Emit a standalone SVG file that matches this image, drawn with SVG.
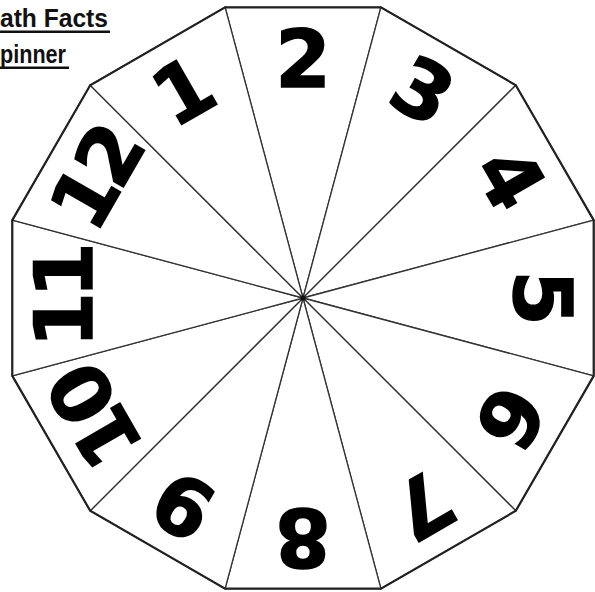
<svg xmlns="http://www.w3.org/2000/svg" width="595" height="592" viewBox="0 0 595 592">
<style>
.sec{fill:#fff;stroke:#333;stroke-width:1.3;stroke-linejoin:miter}
.num{font-family:"DejaVu Sans",sans-serif;font-weight:bold;font-size:80px;fill:#000;text-anchor:middle;stroke:#000;stroke-width:1.5}
.two{letter-spacing:-6px}
.title{font-family:"Liberation Sans",Arial,sans-serif;font-weight:bold;font-size:25px;fill:#111}
</style>
<rect width="595" height="592" fill="#fff"/>
<g id="title">
<text class="title" x="0" y="27" textLength="108" lengthAdjust="spacingAndGlyphs">ath Facts</text>
<rect x="0" y="30.5" width="110" height="2.5" fill="#111"/>
<text class="title" x="0" y="63" textLength="66" lengthAdjust="spacingAndGlyphs">pinner</text>
<rect x="0" y="66.5" width="69" height="2.5" fill="#111"/>
</g>
<g id="s2"><polygon class="sec" points="303,298 225.1,7.3 380.9,7.3"/><text class="num" x="303" y="87" transform="rotate(0 303 298)">2</text></g>
<g id="s3"><polygon class="sec" points="303,298 380.9,7.3 515.8,85.2"/><text class="num" x="303" y="87" transform="rotate(30 303 298)">3</text></g>
<g id="s4"><polygon class="sec" points="303,298 515.8,85.2 593.7,220.1"/><text class="num" x="303" y="87" transform="rotate(60 303 298)">4</text></g>
<g id="s5"><polygon class="sec" points="303,298 593.7,220.1 593.7,375.9"/><text class="num" x="303" y="87" transform="rotate(90 303 298)">5</text></g>
<g id="s6"><polygon class="sec" points="303,298 593.7,375.9 515.8,510.8"/><text class="num" x="303" y="87" transform="rotate(120 303 298)">6</text></g>
<g id="s7"><polygon class="sec" points="303,298 515.8,510.8 380.9,588.7"/><text class="num" x="303" y="87" transform="rotate(150 303 298)">7</text></g>
<g id="s8"><polygon class="sec" points="303,298 380.9,588.7 225.1,588.7"/><text class="num" x="303" y="87" transform="rotate(180 303 298)">8</text></g>
<g id="s9"><polygon class="sec" points="303,298 225.1,588.7 90.2,510.8"/><text class="num" x="303" y="87" transform="rotate(210 303 298)">9</text></g>
<g id="s10"><polygon class="sec" points="303,298 90.2,510.8 12.3,375.9"/><text class="num two" x="303" y="87" transform="rotate(240 303 298)">10</text></g>
<g id="s11"><polygon class="sec" points="303,298 12.3,375.9 12.3,220.1"/><text class="num two" x="303" y="87" transform="rotate(270 303 298)">11</text></g>
<g id="s12"><polygon class="sec" points="303,298 12.3,220.1 90.2,85.2"/><text class="num two" x="303" y="87" transform="rotate(300 303 298)">12</text></g>
<g id="s1"><polygon class="sec" points="303,298 90.2,85.2 225.1,7.3"/><text class="num" x="303" y="87" transform="rotate(330 303 298)">1</text></g>
<g id="outline"><polygon points="593.7,220.1 515.8,85.2 380.9,7.3 225.1,7.3 90.2,85.2 12.3,220.1 12.3,375.9 90.2,510.8 225.1,588.7 380.9,588.7 515.8,510.8 593.7,375.9" fill="none" stroke="#222" stroke-width="2.2"/><circle cx="303" cy="298" r="2.5" fill="#111"/></g>
</svg>
